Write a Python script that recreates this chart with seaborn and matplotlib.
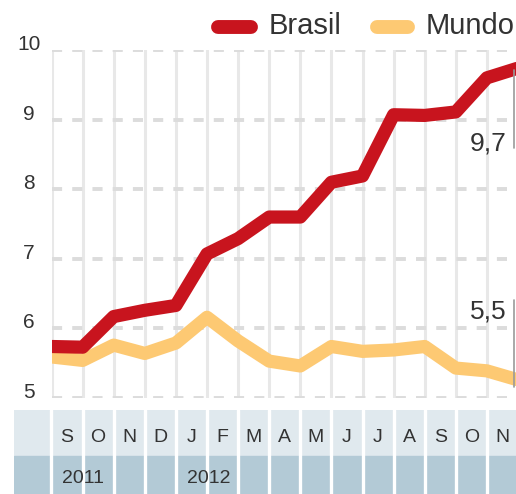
import matplotlib
matplotlib.use("Agg")
import matplotlib.pyplot as plt
from matplotlib.lines import Line2D
import seaborn as sns
import pandas as pd

# ---- data ----
months = ["S", "O", "N", "D", "J", "F", "M", "A", "M", "J", "J", "A", "S", "O", "N"]
years = ["2011", "2012"]
year_pos = [1.0, 5.05]
positions = list(range(16))
brasil = [5.74, 5.73, 6.17, 6.26, 6.33, 7.07, 7.29, 7.60, 7.60, 8.10, 8.19, 9.07, 9.06, 9.11, 9.60, 9.74]
mundo = [5.59, 5.54, 5.76, 5.64, 5.79, 6.16, 5.82, 5.53, 5.46, 5.74, 5.67, 5.69, 5.74, 5.43, 5.39, 5.26]
y_ticks = [5, 6, 7, 8, 9, 10]
end_labels = {"Brasil": "9,7", "Mundo": "5,5"}

RED = "#c8141e"
YEL = "#fdc973"
TXT = "#333333"

sns.set_style("white")
plt.rcParams["font.family"] = ["Liberation Sans", "DejaVu Sans"]

W, H = 516, 494
fig = plt.figure(figsize=(W / 100, H / 100), dpi=100)

def fx(px):
    return px / W

def fy(py):
    return (H - py) / H

# main axes: x=0 at px 51.5, x=15 at px 518 ; y=10 at py 50, y=5 at py 398
left_px, right_px = 51.5, 518.0
ax = fig.add_axes([fx(left_px), fy(398), fx(right_px - left_px), (398 - 50) / H])
ax.set_xlim(0, 15)
ax.set_ylim(5, 10)
for s in ax.spines.values():
    s.set_visible(False)
ax.set_xticks([])
ax.set_yticks([])

# grid
for x in positions:
    ax.axvline(x, color="#e8e8e8", lw=2.2, zorder=0)
for y in y_ticks:
    ax.axhline(y, color="#dcdcdc", lw=2.8, dashes=(2.6, 2.6), zorder=0.5)

df = pd.DataFrame({
    "pos": positions * 2,
    "valor": mundo + brasil,
    "serie": ["Mundo"] * len(positions) + ["Brasil"] * len(positions),
})
sns.lineplot(data=df, x="pos", y="valor", hue="serie", hue_order=["Mundo", "Brasil"],
             palette={"Brasil": RED, "Mundo": YEL}, linewidth=9.5, legend=False,
             solid_capstyle="round", solid_joinstyle="round", ax=ax, zorder=3)
ax.set_xlabel("")
ax.set_ylabel("")
ax.set_xlim(0, 15)
ax.set_ylim(5, 10)

# y labels
ytr = ax.get_yaxis_transform()
for y in y_ticks:
    ax.text((29 - left_px) / (right_px - left_px), y + 0.08, str(y), transform=ytr,
            ha="center", va="center", fontsize=15, color=TXT, clip_on=False)

# end annotations
for val, lab, top, bot, base in [(brasil[-1], end_labels["Brasil"], 70, 148, 150),
                                  (mundo[-1], end_labels["Mundo"], 300, 387, 318)]:
    fig.add_artist(Line2D([fx(514), fx(514)], [fy(top), fy(bot)], color="#9a9a9a", lw=1.2))
    fig.text(fx(507), fy(base), lab, ha="right", va="baseline", fontsize=19, color=TXT)

# legend (manual)
fig.add_artist(Line2D([fx(218), fx(251)], [fy(27), fy(27)], color=RED, lw=10,
                      solid_capstyle="round"))
fig.text(fx(269), fy(34), "Brasil", ha="left", va="baseline", fontsize=21, color=TXT)
fig.add_artist(Line2D([fx(377), fx(408)], [fy(27), fy(27)], color=YEL, lw=10,
                      solid_capstyle="round"))
fig.text(fx(426), fy(34), "Mundo", ha="left", va="baseline", fontsize=21, color=TXT)

# bottom strip
strip_left = 14
ax2 = fig.add_axes([fx(strip_left), 0, fx(right_px - strip_left), (H - 410) / H])
unit = (right_px - left_px) / 15
ax2.set_xlim(-(left_px - strip_left) / unit, 15)
ax2.set_ylim(0, 1)
ax2.axis("off")
split = (H - 456) / (H - 410)
ax2.axhspan(split, 1, color="#e0e9ee", zorder=0)
ax2.axhspan(0, split, color="#b3cad6", zorder=0)
for x in positions:
    ax2.axvline(x, color="white", lw=2.4, zorder=1)
for i, m in enumerate(months):
    ax2.text(i + 0.5, (H - 437) / (H - 410), m, ha="center", va="center",
             fontsize=14, color=TXT, zorder=2)
for yr, p in zip(years, year_pos):
    ax2.text(p, (H - 478) / (H - 410), yr, ha="center", va="center",
             fontsize=14, color=TXT, zorder=2)

fig.savefig("out.png", dpi=100)
